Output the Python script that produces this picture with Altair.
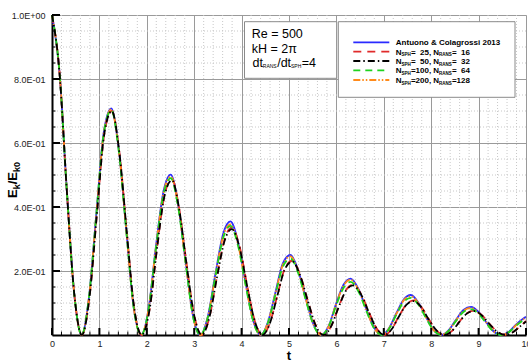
import altair as alt
import pandas as pd

# Sample times: reference solution and the two finer runs share T_FINE,
# the two coarsest runs lag slightly and use T_COARSE.
T_FINE = [0.00, 0.16, 0.31, 0.47, 0.625, 0.78, 0.94, 1.09, 1.25,
          1.41, 1.57, 1.72, 1.88, 2.04, 2.19, 2.35, 2.505,
          2.66, 2.82, 2.97, 3.13, 3.29, 3.45, 3.61, 3.765,
          3.925, 4.085, 4.245, 4.405, 4.56, 4.72, 4.87, 5.03,
          5.19, 5.355, 5.52, 5.68, 5.84, 5.99, 6.15, 6.30,
          6.465, 6.63, 6.795, 6.96, 7.11, 7.265, 7.42, 7.57,
          7.73, 7.89, 8.05, 8.21, 8.37, 8.525, 8.68, 8.84,
          9.00, 9.16, 9.32, 9.48, 9.64, 9.80, 9.96, 10.0]

T_COARSE = [0.00, 0.16, 0.31, 0.47, 0.63, 0.79, 0.95, 1.10, 1.26,
            1.42, 1.58, 1.73, 1.89, 2.06, 2.21, 2.37, 2.53,
            2.68, 2.84, 3.00, 3.16, 3.32, 3.48, 3.64, 3.795,
            3.96, 4.12, 4.28, 4.44, 4.60, 4.76, 4.91, 5.07,
            5.23, 5.40, 5.565, 5.725, 5.885, 6.04, 6.20, 6.35,
            6.52, 6.685, 6.85, 7.015, 7.165, 7.32, 7.48, 7.63,
            7.79, 7.95, 8.115, 8.275, 8.435, 8.59, 8.745, 8.91,
            9.07, 9.23, 9.395, 9.555, 9.715, 9.875, 10.0]

# Normalised kinetic energy E_k / E_k0
E_REF = [1.000, 0.818, 0.458, 0.128, 0.000, 0.118, 0.386, 0.631, 0.708,
         0.579, 0.324, 0.091, 0.000, 0.084, 0.273, 0.447, 0.501,
         0.409, 0.229, 0.064, 0.000, 0.059, 0.193, 0.316, 0.355,
         0.290, 0.163, 0.045, 0.000, 0.042, 0.137, 0.224, 0.250,
         0.204, 0.114, 0.032, 0.000, 0.029, 0.096, 0.157, 0.176,
         0.144, 0.081, 0.023, 0.000, 0.021, 0.068, 0.111, 0.125,
         0.101, 0.057, 0.016, 0.000, 0.015, 0.048, 0.078, 0.088,
         0.072, 0.040, 0.011, 0.000, 0.010, 0.034, 0.053, 0.057]

E_200 = [1.000, 0.818, 0.458, 0.128, 0.000, 0.118, 0.385, 0.629, 0.705,
         0.577, 0.322, 0.090, 0.000, 0.083, 0.270, 0.442, 0.495,
         0.405, 0.226, 0.063, 0.000, 0.057, 0.188, 0.308, 0.346,
         0.283, 0.158, 0.044, 0.000, 0.041, 0.134, 0.219, 0.246,
         0.201, 0.112, 0.031, 0.000, 0.028, 0.094, 0.154, 0.173,
         0.141, 0.079, 0.022, 0.000, 0.020, 0.066, 0.108, 0.121,
         0.099, 0.055, 0.015, 0.000, 0.014, 0.046, 0.075, 0.085,
         0.069, 0.039, 0.011, 0.000, 0.009, 0.032, 0.051, 0.055]

E_100 = [1.000, 0.817, 0.457, 0.128, 0.000, 0.118, 0.384, 0.627, 0.703,
         0.574, 0.320, 0.089, 0.000, 0.082, 0.267, 0.437, 0.490,
         0.401, 0.224, 0.062, 0.000, 0.056, 0.185, 0.303, 0.341,
         0.279, 0.156, 0.043, 0.000, 0.040, 0.130, 0.213, 0.239,
         0.195, 0.109, 0.030, 0.000, 0.027, 0.090, 0.147, 0.166,
         0.136, 0.076, 0.021, 0.000, 0.019, 0.063, 0.103, 0.116,
         0.095, 0.053, 0.015, 0.000, 0.013, 0.044, 0.072, 0.081,
         0.066, 0.037, 0.010, 0.000, 0.009, 0.030, 0.048, 0.052]

E_25 = [1.000, 0.817, 0.457, 0.128, 0.000, 0.117, 0.383, 0.625, 0.700,
        0.573, 0.319, 0.089, 0.000, 0.082, 0.265, 0.434, 0.487,
        0.398, 0.222, 0.062, 0.000, 0.055, 0.182, 0.298, 0.336,
        0.275, 0.153, 0.043, 0.000, 0.039, 0.127, 0.207, 0.232,
        0.190, 0.106, 0.030, 0.000, 0.026, 0.085, 0.140, 0.157,
        0.128, 0.072, 0.020, 0.000, 0.018, 0.059, 0.096, 0.108,
        0.088, 0.049, 0.014, 0.000, 0.012, 0.041, 0.067, 0.076,
        0.062, 0.035, 0.010, 0.000, 0.008, 0.027, 0.044]

E_50 = [1.000, 0.817, 0.457, 0.128, 0.000, 0.117, 0.383, 0.625, 0.700,
        0.572, 0.318, 0.089, 0.000, 0.081, 0.264, 0.432, 0.484,
        0.396, 0.220, 0.061, 0.000, 0.055, 0.180, 0.294, 0.331,
        0.271, 0.151, 0.042, 0.000, 0.038, 0.126, 0.205, 0.230,
        0.188, 0.105, 0.029, 0.000, 0.026, 0.084, 0.138, 0.155,
        0.127, 0.071, 0.020, 0.000, 0.018, 0.058, 0.095, 0.106,
        0.087, 0.048, 0.014, 0.000, 0.012, 0.040, 0.066, 0.075,
        0.061, 0.034, 0.010, 0.000, 0.008, 0.027, 0.042]

REF_LABEL = "Antuono & Colagrossi 2013"
N_SPH = [25, 50, 100, 200]
N_RANS = [16, 32, 64, 128]

X_TICKS = list(range(11))
Y_TICKS = [0.2, 0.4, 0.6, 0.8, 1.0]
Y_LABELS = ["2.0E-01", "4.0E-01", "6.0E-01", "8.0E-01", "1.0E+00"]

W, H = 474, 320
FONT = "Liberation Sans"
LW = 1.8

xs = alt.Scale(domain=[0, 10], nice=False, zero=False)
ys = alt.Scale(domain=[0, 1], nice=False, zero=False)
one = pd.DataFrame({"k": [0]})

# (times, values, colour, dash) in legend order
SERIES = [
    (T_FINE, E_REF, "#2a2aff", None),
    (T_COARSE, E_25, "#e02a2a", [8, 6]),
    (T_COARSE, E_50, "#000000", [7, 3, 1.5, 3]),
    (T_FINE, E_100, "#1fd21f", [7, 5]),
    (T_FINE, E_200, "#ff8a1a", [7, 2, 1.5, 2, 1.5, 2]),
]
DRAW_ORDER = [0, 1, 4, 3, 2]

# y labels in Tecplot exponent style
label_expr = f"'{Y_LABELS[-1]}'"
for v, lab in reversed(list(zip(Y_TICKS[:-1], Y_LABELS[:-1]))):
    label_expr = f"datum.value < {v + 0.1:.2f} ? '{lab}' : ({label_expr})"

# one shared axis definition per channel, used by every layer
X_AXIS = alt.Axis(
    values=X_TICKS, format="d", grid=True, gridColor="#9a9a9a", gridWidth=1,
    ticks=False, domainColor="black", domainWidth=2, labelFont=FONT,
    labelFontSize=9, labelColor="#222", labelPadding=4, labelFlush=False,
    labelBound=False, labelOverlap=False, title=None)
Y_AXIS = alt.Axis(
    values=Y_TICKS, labelExpr=label_expr, grid=True, gridColor="#9a9a9a",
    gridWidth=1, ticks=False, domainColor="black", domainWidth=2,
    labelFont=FONT, labelFontSize=9, labelColor="#222", labelPadding=7,
    labelOverlap=False, title=None)


def X(field):
    return alt.X(field, scale=xs, axis=X_AXIS)


def Y(field):
    return alt.Y(field, scale=ys, axis=Y_AXIS)


axes = alt.Chart(pd.DataFrame({"t": [0, 10], "E": [0, 1]})).mark_point(opacity=0).encode(
    x=X("t:Q"), y=Y("E:Q"))

minor_x = [i / 5 for i in range(1, 50) if i % 5]
minor_y = [i / 20 for i in range(1, 20) if i % 4]

grid_x = alt.Chart(pd.DataFrame({"v": minor_x})).mark_rule(
    color="#c8c8c8", strokeWidth=1, strokeDash=[1, 2]).encode(x=X("v:Q"))
grid_y = alt.Chart(pd.DataFrame({"v": minor_y})).mark_rule(
    color="#c8c8c8", strokeWidth=1, strokeDash=[1, 2]).encode(y=Y("v:Q"))

# inward-pointing tick marks
tick_x_major = alt.Chart(pd.DataFrame({"v": X_TICKS})).mark_rule(color="black", strokeWidth=2).encode(
    x=X("v:Q"), y=alt.value(H), y2=alt.value(H - 7))
tick_x_minor = alt.Chart(pd.DataFrame({"v": minor_x})).mark_rule(color="black", strokeWidth=1).encode(
    x=X("v:Q"), y=alt.value(H), y2=alt.value(H - 3.5))
tick_y_major = alt.Chart(pd.DataFrame({"v": Y_TICKS})).mark_rule(color="black", strokeWidth=2).encode(
    y=Y("v:Q"), x=alt.value(0), x2=alt.value(8))
tick_y_minor = alt.Chart(pd.DataFrame({"v": minor_y})).mark_rule(color="black", strokeWidth=1).encode(
    y=Y("v:Q"), x=alt.value(0), x2=alt.value(3.5))


def curve(ts, es, color, dash):
    kw = dict(color=color, strokeWidth=LW, interpolate="monotone")
    if dash:
        kw["strokeDash"] = dash
    return alt.Chart(pd.DataFrame({"t": ts, "E": es})).mark_line(**kw).encode(
        x=X("t:Q"), y=Y("E:Q"))


curves = [curve(*SERIES[i]) for i in DRAW_ORDER]


def txt(s, x, y, size, weight="normal", angle=None, align="left"):
    kw = dict(align=align, baseline="alphabetic", font=FONT, fontSize=size,
              fontWeight=weight, color="black", text=s)
    if angle is not None:
        kw["angle"] = angle
    return alt.Chart(one).mark_text(**kw).encode(x=alt.value(x), y=alt.value(y))


def box(x1, x2, y1, y2):
    return alt.Chart(one).mark_rect(fill="white", stroke="#8a8a8a", strokeWidth=1).encode(
        x=alt.value(x1), x2=alt.value(x2), y=alt.value(y1), y2=alt.value(y2))


# parameter box
info = [
    box(192.5, 284.7, 6.7, 63.3),
    txt("Re = 500", 199.7, 23.3, 12.5),
    txt("kH = 2\u03c0", 199.7, 38.3, 12.5),
    txt("dt", 200.5, 51.5, 12.5),
    txt("RANS", 210.8, 53.0, 5),
    txt("/dt", 225.2, 51.5, 12.5),
    txt("SPH", 239.0, 53.0, 5),
    txt("=4", 249.8, 51.5, 12.5),
]

# legend
ROW_Y = [27.3, 36.7, 46.0, 55.3, 65.0]
LX1, LX2, TX = 301.3, 337.3, 343.8
legend = [box(286.3, 463.0, 6.7, 82.3)]
for i, (_, _, color, dash) in enumerate(SERIES):
    yl = ROW_Y[i]
    kw = dict(color=color, strokeWidth=LW)
    if dash:
        kw["strokeDash"] = dash
    legend.append(alt.Chart(one).mark_rule(**kw).encode(
        x=alt.value(LX1), x2=alt.value(LX2), y=alt.value(yl)))
    bl = yl + 3
    if i == 0:
        legend.append(txt(REF_LABEL, TX, bl, 8, "bold"))
        continue
    pad = lambda n: "\u2007" * (3 - len(str(n))) + str(n)
    legend += [
        txt("N", TX, bl, 8, "bold"),
        txt("SPH", TX + 5.8, bl + 1.5, 4.5, "bold"),
        txt(f"={pad(N_SPH[i - 1])}, N", TX + 15.1, bl, 8, "bold"),
        txt("RANS", TX + 43.3, bl + 1.5, 4.5, "bold"),
        txt(f"={pad(N_RANS[i - 1])}", TX + 56.1, bl, 8, "bold"),
    ]

# axis titles
y0 = 183.0
titles = [
    txt("E", -35, y0, 13, "bold", angle=270),
    txt("k", -32, y0 - 8.7, 9, "bold", angle=270),
    txt("/", -35, y0 - 13.7, 13, "bold", angle=270),
    txt("E", -35, y0 - 17.3, 13, "bold", angle=270),
    txt("k0", -32, y0 - 26.0, 9, "bold", angle=270),
    txt("t", W / 2, H + 24.5, 13, "bold", align="center"),
]

chart = alt.layer(
    axes, grid_x, grid_y, *curves,
    tick_x_major, tick_x_minor, tick_y_major, tick_y_minor,
    *info, *legend, *titles,
).properties(
    width=W, height=H, autosize="none",
    padding={"left": 52, "top": 15, "right": 2, "bottom": 25},
).configure_view(stroke=None).configure(background="white")

chart.save("out.html", embed_options={"renderer": "svg", "actions": False})
